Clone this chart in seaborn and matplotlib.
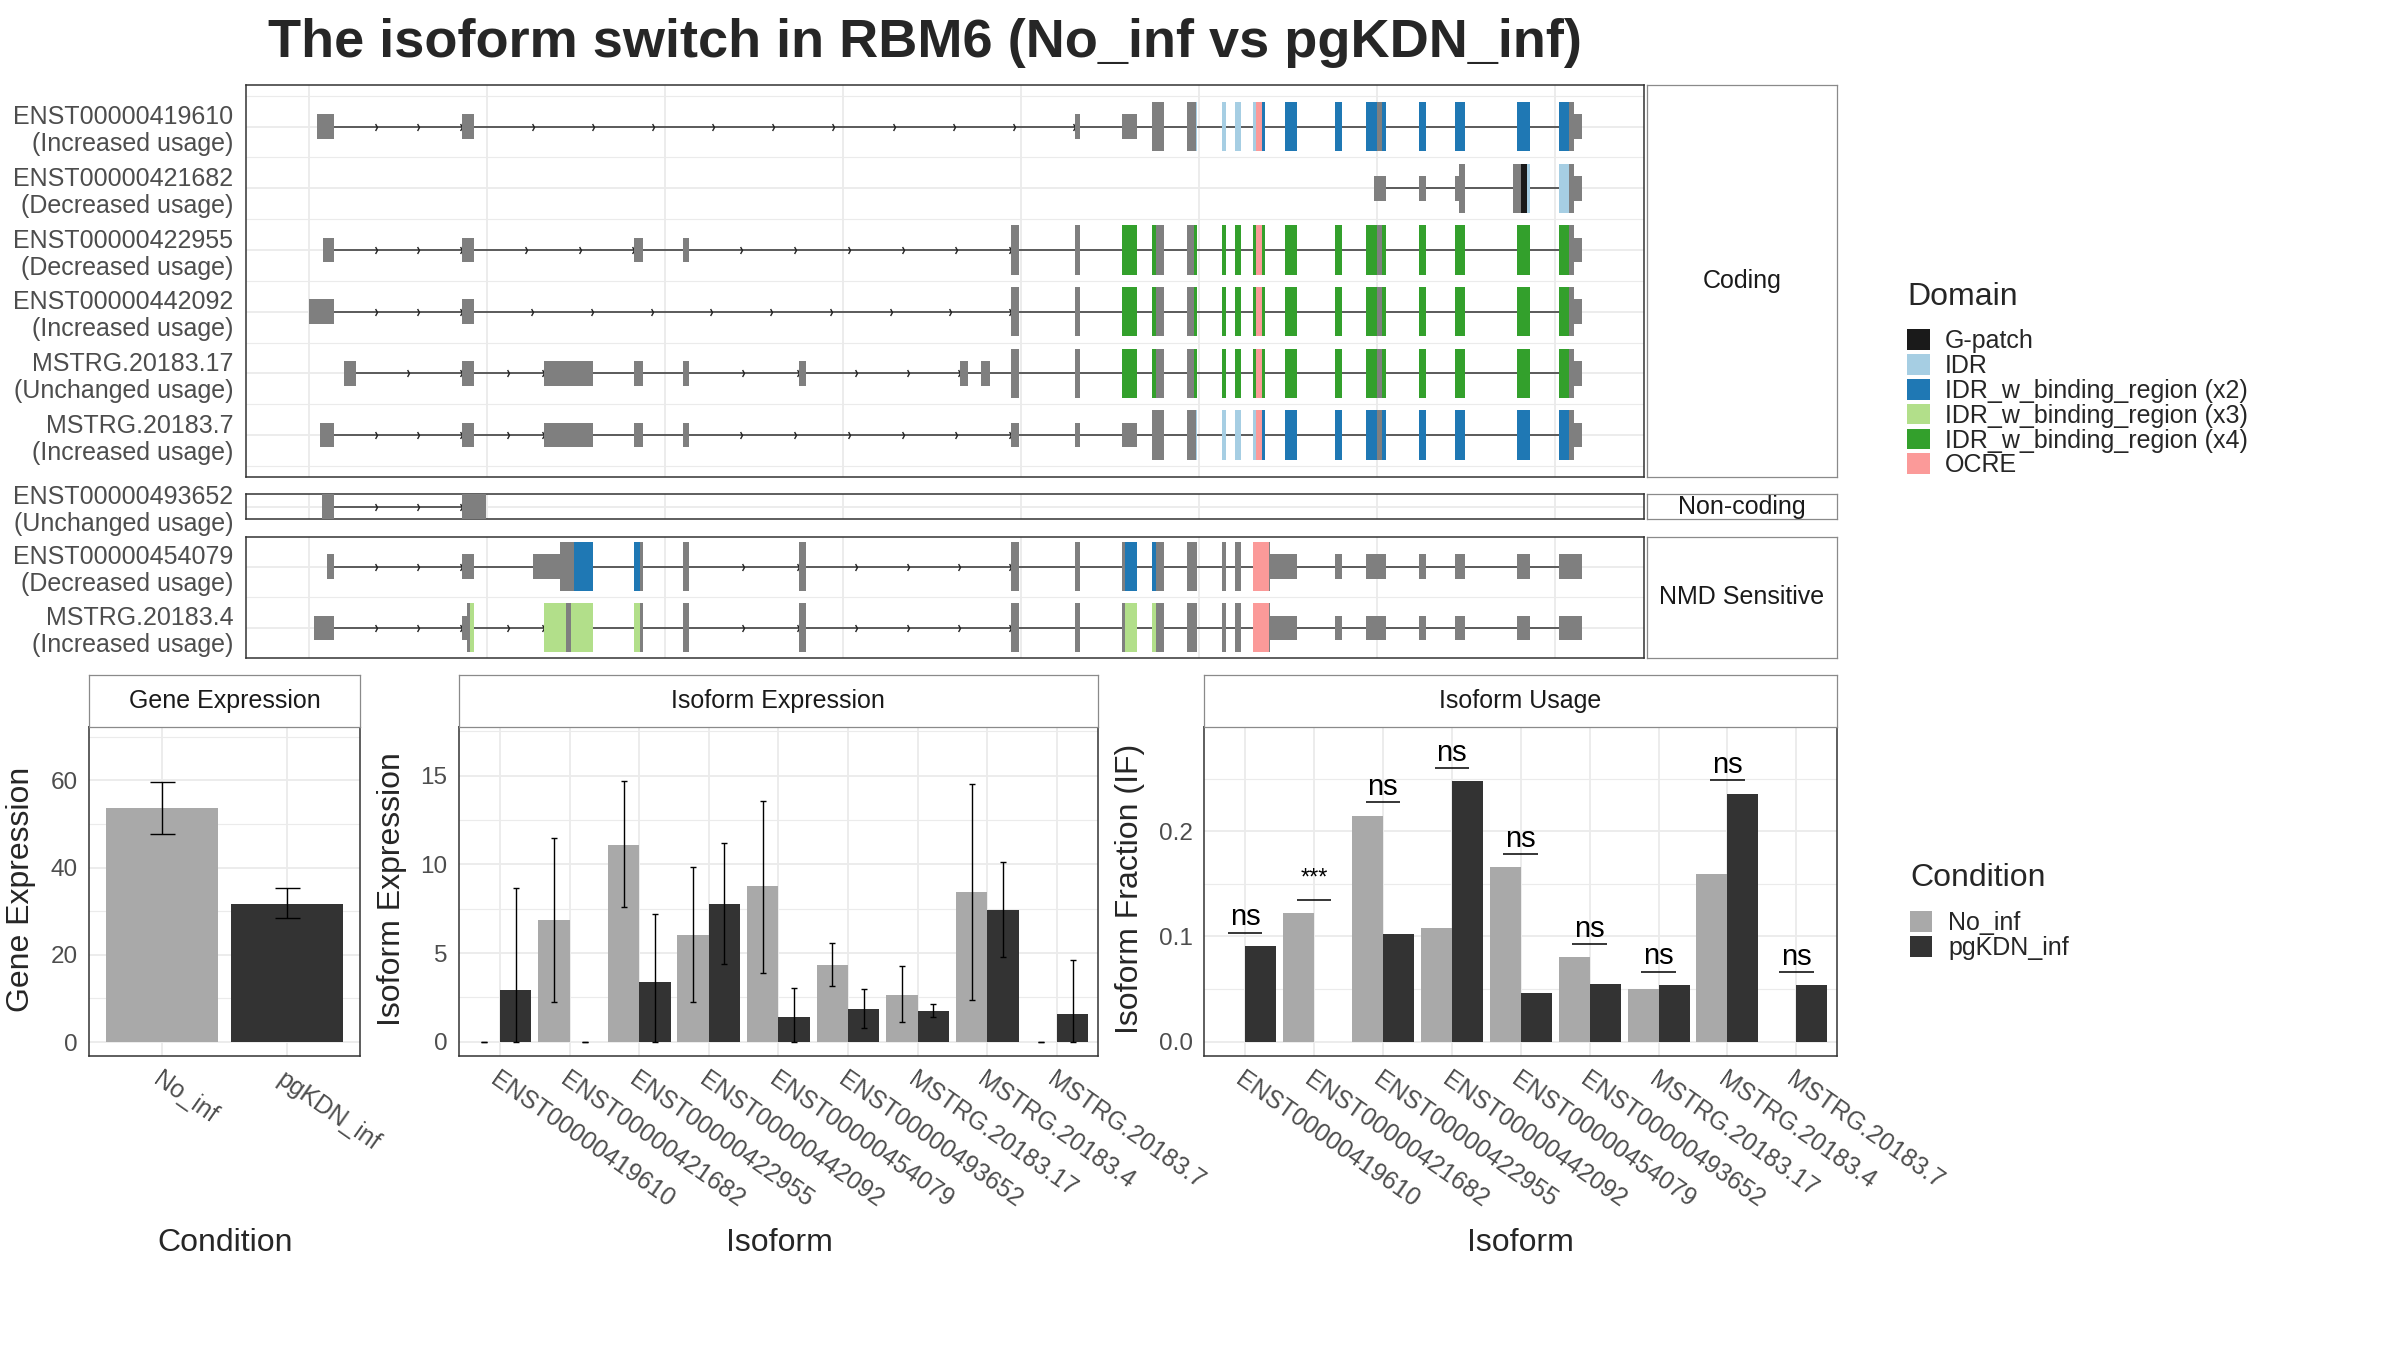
import numpy as np
import pandas as pd
import matplotlib
matplotlib.use("Agg")
import matplotlib.pyplot as plt
import seaborn as sns
from matplotlib.patches import Patch
from matplotlib.path import Path

# ---------------- data ----------------
title_text = "The isoform switch in RBM6 (No_inf vs pgKDN_inf)"
conditions = ["No_inf", "pgKDN_inf"]
condition_colors = ["#A9A9A9", "#333333"]

isoforms = ["ENST00000419610", "ENST00000421682", "ENST00000422955", "ENST00000442092",
            "ENST00000454079", "ENST00000493652", "MSTRG.20183.17", "MSTRG.20183.4",
            "MSTRG.20183.7"]

gene_expr = [53.6, 31.7]
gene_expr_lo = [47.7, 28.5]
gene_expr_hi = [59.5, 35.2]

iso_expr_noinf = [0.0, 6.87, 11.09, 6.01, 8.76, 4.31, 2.64, 8.47, 0.0]
iso_expr_noinf_lo = [0.0, 2.21, 7.57, 2.21, 3.89, 3.12, 1.08, 2.37, 0.0]
iso_expr_noinf_hi = [0.0, 11.5, 14.68, 9.87, 13.6, 5.58, 4.25, 14.55, 0.0]
iso_expr_pg = [2.94, 0.0, 3.34, 7.79, 1.40, 1.85, 1.74, 7.45, 1.56]
iso_expr_pg_lo = [0.0, 0.0, 0.0, 4.40, 0.0, 0.75, 1.40, 4.79, 0.0]
iso_expr_pg_hi = [8.67, 0.0, 7.21, 11.18, 3.03, 2.96, 2.10, 10.14, 4.61]

if_noinf = [0.0, 0.1224, 0.2148, 0.108, 0.1658, 0.0802, 0.0502, 0.159, 0.0]
if_pg = [0.0909, 0.0, 0.1023, 0.2475, 0.0464, 0.0551, 0.054, 0.2357, 0.0536]
if_signif = ["ns", "***", "ns", "ns", "ns", "ns", "ns", "ns", "ns"]

domain_names = ["G-patch", "IDR", "IDR_w_binding_region (x2)", "IDR_w_binding_region (x3)",
                "IDR_w_binding_region (x4)", "OCRE"]
domain_codes = ["G", "I", "B2", "B3", "B4", "O"]
domain_colors = ["#1A1A1A", "#A6CEE3", "#1F78B4", "#B2DF8A", "#33A02C", "#FB9A99"]

# transcript structures: (start, end, part U=UTR / C=CDS, domain code)
tail_x4 = [(1075, 1080, 'C', None), (1122, 1137, 'C', 'B4'), (1151.8, 1155.5, 'C', 'B4'),
           (1155.5, 1164, 'C', None), (1187, 1194.3, 'C', None), (1194.3, 1197, 'C', 'B4'),
           (1222, 1226, 'C', 'B4'), (1235, 1241, 'C', 'B4'), (1253, 1255.6, 'C', 'B4'),
           (1255.6, 1262, 'C', 'O'), (1262, 1265, 'C', 'B4'), (1285, 1297, 'C', 'B4'),
           (1334.5, 1342, 'C', 'B4'), (1366, 1377.4, 'C', 'B4'), (1377.4, 1382, 'C', None),
           (1382, 1386, 'C', 'B4'), (1419, 1426, 'C', 'B4'), (1455, 1465, 'C', 'B4'),
           (1517, 1530, 'C', 'B4'), (1559, 1568.5, 'C', 'B4'), (1568.5, 1574, 'C', None),
           (1574, 1582, 'U', None)]
tail_x2 = [(1187, 1195.5, 'C', None), (1195.5, 1197, 'C', 'I'), (1222, 1226, 'C', 'I'),
           (1235, 1241, 'C', 'I'), (1253, 1255.6, 'C', 'I'), (1255.6, 1262, 'C', 'O'),
           (1262, 1265, 'C', 'B2'), (1285, 1297, 'C', 'B2'), (1334.5, 1342, 'C', 'B2'),
           (1366, 1377.4, 'C', 'B2'), (1377.4, 1382, 'C', None), (1382, 1386, 'C', 'B2'),
           (1419, 1426, 'C', 'B2'), (1455, 1465, 'C', 'B2'), (1517, 1530, 'C', 'B2'),
           (1559, 1568.5, 'C', 'B2'), (1568.5, 1574, 'C', None), (1574, 1582, 'U', None)]
nmd_tail = [(1187, 1196.5, 'C', None), (1222, 1226, 'C', None), (1235, 1241, 'C', None),
            (1253, 1268.5, 'C', 'O'), (1268.5, 1270, 'C', None), (1270, 1297, 'U', None),
            (1334.5, 1342, 'U', None), (1366, 1386, 'U', None), (1419, 1426, 'U', None),
            (1455, 1465, 'U', None), (1517, 1530, 'U', None), (1559, 1582, 'U', None)]

tx_419610 = [(317, 334, 'U', None), (462, 473.5, 'U', None), (1075, 1080, 'U', None),
             (1122, 1137, 'U', None), (1152, 1164, 'C', None)] + tail_x2
tx_421682 = [(1374, 1386, 'U', None), (1419, 1426, 'U', None), (1455, 1458.5, 'U', None),
             (1458.5, 1465, 'C', None), (1512.7, 1520.5, 'C', None), (1520.5, 1527, 'C', 'G'),
             (1527, 1530, 'C', 'I'), (1559, 1568.5, 'C', 'I'), (1568.5, 1574, 'C', None),
             (1574, 1582, 'U', None)]
tx_422955 = [(323, 334, 'U', None), (462, 473.5, 'U', None), (634, 643, 'U', None),
             (683, 688.6, 'U', None), (1011, 1019, 'C', None)] + tail_x4
tx_442092 = [(309, 334, 'U', None), (462, 473.5, 'U', None), (1011, 1019, 'C', None)] + tail_x4
tx_m17 = [(344, 356, 'U', None), (462, 473.5, 'U', None), (544, 592.7, 'U', None),
          (634, 643, 'U', None), (683, 688.6, 'U', None), (799, 806, 'U', None),
          (960, 968, 'U', None), (981, 990, 'U', None), (1011, 1019, 'C', None)] + tail_x4
tx_m7 = [(320, 334, 'U', None), (462, 473.5, 'U', None), (544, 592.7, 'U', None),
         (634, 643, 'U', None), (683, 688.6, 'U', None), (1011, 1019, 'U', None),
         (1075, 1080, 'U', None), (1122, 1137, 'U', None), (1152, 1164, 'C', None)] + tail_x2
tx_493652 = [(322, 334, 'U', None), (462, 486, 'U', None)]
tx_454079 = [(327, 334, 'U', None), (462, 473.5, 'U', None), (533, 560, 'U', None),
             (560, 574, 'C', None), (574, 592.7, 'C', 'B2'), (634, 639.5, 'C', 'B2'),
             (639.5, 643, 'C', None), (683, 688.6, 'C', None), (799, 806, 'C', None),
             (1011, 1019, 'C', None), (1075, 1080, 'C', None), (1122, 1125, 'C', None),
             (1125, 1137, 'C', 'B2'), (1151.5, 1155.5, 'C', 'B2'), (1155.5, 1164, 'C', None)] + nmd_tail
tx_m4 = [(314, 334, 'U', None), (462, 467, 'U', None), (467, 470, 'C', None),
         (470, 473.5, 'C', 'B3'), (544, 566, 'C', 'B3'), (566, 571, 'C', None),
         (571, 592.7, 'C', 'B3'), (634, 639.5, 'C', 'B3'), (639.5, 643, 'C', None),
         (683, 688.6, 'C', None), (799, 806, 'C', None), (1011, 1019, 'C', None),
         (1075, 1080, 'C', None), (1122, 1125, 'C', None), (1125, 1137, 'C', 'B3'),
         (1151.5, 1155.5, 'C', 'B3'), (1155.5, 1164, 'C', None)] + nmd_tail

panel_names = ["Coding", "Non-coding", "NMD Sensitive"]
panel_labels = [
    ["ENST00000419610\n(Increased usage)", "ENST00000421682\n(Decreased usage)",
     "ENST00000422955\n(Decreased usage)", "ENST00000442092\n(Increased usage)",
     "MSTRG.20183.17\n(Unchanged usage)", "MSTRG.20183.7\n(Increased usage)"],
    ["ENST00000493652\n(Unchanged usage)"],
    ["ENST00000454079\n(Decreased usage)", "MSTRG.20183.4\n(Increased usage)"],
]
panel_tx = [[tx_419610, tx_421682, tx_422955, tx_442092, tx_m17, tx_m7],
            [tx_493652],
            [tx_454079, tx_m4]]

# ---------------- style ----------------
sns.set_theme(style="white")
plt.rcParams['font.family'] = ['Liberation Sans', 'DejaVu Sans']

W, H = 2400, 1350
fig = plt.figure(figsize=(24, 13.5), dpi=100)


def fbox(x0, y0, x1, y1):
    return [x0 / W, 1 - y1 / H, (x1 - x0) / W, (y1 - y0) / H]


GRID = "#EBEBEB"
BORDER = "#333333"
TICKC = "#4D4D4D"
EXON_GREY = "#7F7F7F"
dcol = dict(zip(domain_codes, domain_colors))


def style_border(ax, color=BORDER, lw=1.1):
    for s in ax.spines.values():
        s.set_visible(True)
        s.set_color(color)
        s.set_linewidth(lw)


def strip(box, text):
    sa = fig.add_axes(fbox(*box))
    sa.set_facecolor("white")
    sa.set_xticks([])
    sa.set_yticks([])
    style_border(sa, "#8A8A8A", 0.9)
    sa.text(0.5, 0.5, text, ha="center", va="center", fontsize=18, color="#1A1A1A",
            transform=sa.transAxes)
    return sa


chevron = Path([(-0.55, 1), (0, 0), (-0.55, -1)], [Path.MOVETO, Path.LINETO, Path.LINETO])

# ---------------- transcript panels ----------------
panel_boxes = [(246, 84.7, 1644, 477), (246, 494, 1644, 519.3), (246, 536.7, 1644, 657.7)]
panel_ylims = [(6.68, 0.32), (1.2, 0.8), (2.49, 0.51)]
heights = {'U': 0.4, 'C': 0.8}
vgrid = np.arange(309.2, 1644, 177.9)

for pi in range(3):
    ax = fig.add_axes(fbox(*panel_boxes[pi]))
    ax.set_facecolor("white")
    style_border(ax)
    ax.set_xlim(246, 1644)
    ax.set_ylim(*panel_ylims[pi])
    rows = np.arange(1, len(panel_tx[pi]) + 1)
    for gx in vgrid:
        ax.axvline(gx, color=GRID, lw=1.3, zorder=0)
    for r in rows:
        ax.axhline(r, color=GRID, lw=1.3, zorder=0)
    for r in np.arange(0.5, len(rows) + 1, 1.0):
        ax.axhline(r, color=GRID, lw=0.8, zorder=0)
    for r, segs in zip(rows, panel_tx[pi]):
        segs = sorted(segs)
        start = segs[0][0]
        end = max(s[1] for s in segs)
        ax.hlines(r, start, end, color="#333333", lw=1.1, zorder=2)
        blocks = []
        for s in segs:
            if blocks and s[0] - blocks[-1][1] < 0.6:
                blocks[-1][1] = max(blocks[-1][1], s[1])
            else:
                blocks.append([s[0], s[1]])
        ax_x = []
        for b0, b1 in zip(blocks[:-1], blocks[1:]):
            L = b1[0] - b0[1]
            if L >= 60:
                n = int(np.ceil(L / 62.0))
                ax_x.extend(b0[1] + L * np.arange(1, n + 1) / n)
        if ax_x:
            ax.plot(ax_x, [r] * len(ax_x), linestyle="none", marker=chevron, ms=5,
                    mew=1.0, mfc="none", mec="#222222", zorder=2.5)
        for (s0, s1, part, dom) in segs:
            col = EXON_GREY if dom is None else dcol[dom]
            ax.barh(r, s1 - s0, left=s0, height=heights[part], color=col, linewidth=0,
                    zorder=3)
    ax.set_xticks([])
    ax.set_yticks(rows)
    ax.set_yticklabels(panel_labels[pi], fontsize=18, color=TICKC, linespacing=1.17)
    ax.tick_params(axis="y", length=0, pad=9)
    x0, y0, x1, y1 = panel_boxes[pi]
    strip((1647, y0, 1837, y1), panel_names[pi])

# ---------------- bar panels ----------------
pal = dict(zip(conditions, condition_colors))


def bar_axes_style(ax, yticks, yminor, ylim, xlim, fmt):
    ax.set_facecolor("white")
    style_border(ax)
    ax.set_ylim(*ylim)
    ax.set_xlim(*xlim)
    ax.set_yticks(yticks)
    ax.set_yticklabels([fmt(v) for v in yticks], fontsize=17.5, color=TICKC)
    ax.set_yticks(yminor, minor=True)
    ax.grid(False)
    for v in yticks:
        ax.axhline(v, color=GRID, lw=1.3, zorder=0)
    for v in yminor:
        ax.axhline(v, color=GRID, lw=0.8, zorder=0)
    for v in ax.get_xticks():
        ax.axvline(v, color=GRID, lw=1.3, zorder=0)
    ax.tick_params(axis="both", which="major", length=5, width=1.0, color=BORDER,
                   labelcolor=TICKC, pad=3)
    ax.tick_params(axis="y", which="minor", length=0)
    ax.set_xlabel("")
    ax.set_ylabel("")
    ax.set_axisbelow(True)


def rot_labels(ax, labels):
    ax.set_xticklabels(labels, rotation=-35, ha="left", va="top", rotation_mode="anchor",
                       fontsize=17.8, color=TICKC)


# Gene expression
axg = fig.add_axes(fbox(89, 727, 360, 1056))
df_gene = pd.DataFrame({"Condition": conditions, "value": gene_expr})
sns.barplot(data=df_gene, x="Condition", y="value", hue="Condition", order=conditions,
            hue_order=conditions, palette=pal, width=0.9, saturation=1, legend=False,
            errorbar=None, linewidth=0, ax=axg, zorder=2)
bar_axes_style(axg, [0, 20, 40, 60], [10, 30, 50, 70], (-3.2, 72.2), (-0.59, 1.59),
               lambda v: f"{v:d}")
for i, c in enumerate(conditions):
    axg.errorbar(i, gene_expr[i],
                 yerr=[[gene_expr[i] - gene_expr_lo[i]], [gene_expr_hi[i] - gene_expr[i]]],
                 fmt="none", ecolor="black", elinewidth=1.0, capsize=9, capthick=1.0, zorder=4)
rot_labels(axg, conditions)
strip((89, 675, 360, 727), "Gene Expression")

# Isoform expression
axi = fig.add_axes(fbox(458.5, 727, 1098, 1056))
df_iso = pd.DataFrame({
    "Isoform": isoforms * 2,
    "Condition": [conditions[0]] * len(isoforms) + [conditions[1]] * len(isoforms),
    "value": iso_expr_noinf + iso_expr_pg,
})
sns.barplot(data=df_iso, x="Isoform", y="value", hue="Condition", order=isoforms,
            hue_order=conditions, palette=pal, width=0.9, gap=0, saturation=1, legend=False,
            errorbar=None, linewidth=0, ax=axi, zorder=2)
bar_axes_style(axi, [0, 5, 10, 15], [2.5, 7.5, 12.5, 17.5], (-0.81, 17.75), (-0.595, 8.59),
               lambda v: f"{v:d}")
err_data = [(iso_expr_noinf, iso_expr_noinf_lo, iso_expr_noinf_hi),
            (iso_expr_pg, iso_expr_pg_lo, iso_expr_pg_hi)]
for k, cont in enumerate(axi.containers[:2]):
    vals, lo, hi = err_data[k]
    for i, bar in enumerate(cont):
        xc = bar.get_x() + bar.get_width() / 2
        axi.errorbar(xc, vals[i], yerr=[[vals[i] - lo[i]], [hi[i] - vals[i]]], fmt="none",
                     ecolor="black", elinewidth=1.0, capsize=2.3, capthick=1.0, zorder=4)
rot_labels(axi, isoforms)
strip((458.5, 675, 1098, 727), "Isoform Expression")

# Isoform usage
axu = fig.add_axes(fbox(1204, 727, 1837, 1056))
df_if = pd.DataFrame({
    "Isoform": isoforms * 2,
    "Condition": [conditions[0]] * len(isoforms) + [conditions[1]] * len(isoforms),
    "value": if_noinf + if_pg,
})
sns.barplot(data=df_if, x="Isoform", y="value", hue="Condition", order=isoforms,
            hue_order=conditions, palette=pal, width=0.9, gap=0, saturation=1, legend=False,
            errorbar=None, linewidth=0, ax=axu, zorder=2)
bar_axes_style(axu, [0.0, 0.1, 0.2], [0.05, 0.15, 0.25], (-0.0137, 0.299), (-0.596, 8.59),
               lambda v: f"{v:.1f}")
for i, lab in enumerate(if_signif):
    ytop = max(if_noinf[i], if_pg[i]) + 0.0125
    axu.hlines(ytop, i - 0.25, i + 0.25, color="black", lw=1.1, zorder=5)
    if lab == "ns":
        axu.annotate(lab, (i, ytop), xytext=(0, 1), textcoords="offset points", ha="center",
                     va="bottom", fontsize=21, color="black")
    else:
        axu.annotate(lab, (i, ytop), xytext=(0, 7), textcoords="offset points", ha="center",
                     va="bottom", fontsize=17, color="black")
rot_labels(axu, isoforms)
strip((1204, 675, 1837, 727), "Isoform Usage")

# axis titles
fig.text(225 / W, 1 - 1243 / H, "Condition", ha="center", va="center", fontsize=23)
fig.text(779 / W, 1 - 1243 / H, "Isoform", ha="center", va="center", fontsize=23)
fig.text(1520 / W, 1 - 1243 / H, "Isoform", ha="center", va="center", fontsize=23)
fig.text(21 / W, 1 - 889 / H, "Gene Expression", ha="center", va="center", rotation=90,
         fontsize=23)
fig.text(392 / W, 1 - 889 / H, "Isoform Expression", ha="center", va="center", rotation=90,
         fontsize=23)
fig.text(1130 / W, 1 - 889 / H, "Isoform Fraction (IF)", ha="center", va="center",
         rotation=90, fontsize=23)

# title
fig.text(268 / W, 1 - 43 / H, title_text, ha="left", va="center", fontsize=39,
         fontweight="bold")

# legends (titles drawn as text, entries as legend)
fig.text(1907 / W, 1 - 297 / H, "Domain", ha="left", va="center", fontsize=23)
dom_handles = [Patch(facecolor=c, edgecolor="none") for c in domain_colors]
fig.legend(dom_handles, domain_names, loc="upper left",
           bbox_to_anchor=(1907 / W, 1 - 329 / H), frameon=False,
           fontsize=18, handlelength=0.9, handleheight=0.9,
           labelspacing=0.035, handletextpad=0.62, borderaxespad=0, borderpad=0)
fig.text(1910 / W, 1 - 878 / H, "Condition", ha="left", va="center", fontsize=23)
cond_handles = [Patch(facecolor=c, edgecolor="none") for c in condition_colors]
fig.legend(cond_handles, conditions, loc="upper left",
           bbox_to_anchor=(1910 / W, 1 - 911 / H), frameon=False,
           fontsize=18, handlelength=0.9, handleheight=0.9,
           labelspacing=0.035, handletextpad=0.62, borderaxespad=0, borderpad=0)

fig.savefig("out.png", dpi=100, facecolor="white")
